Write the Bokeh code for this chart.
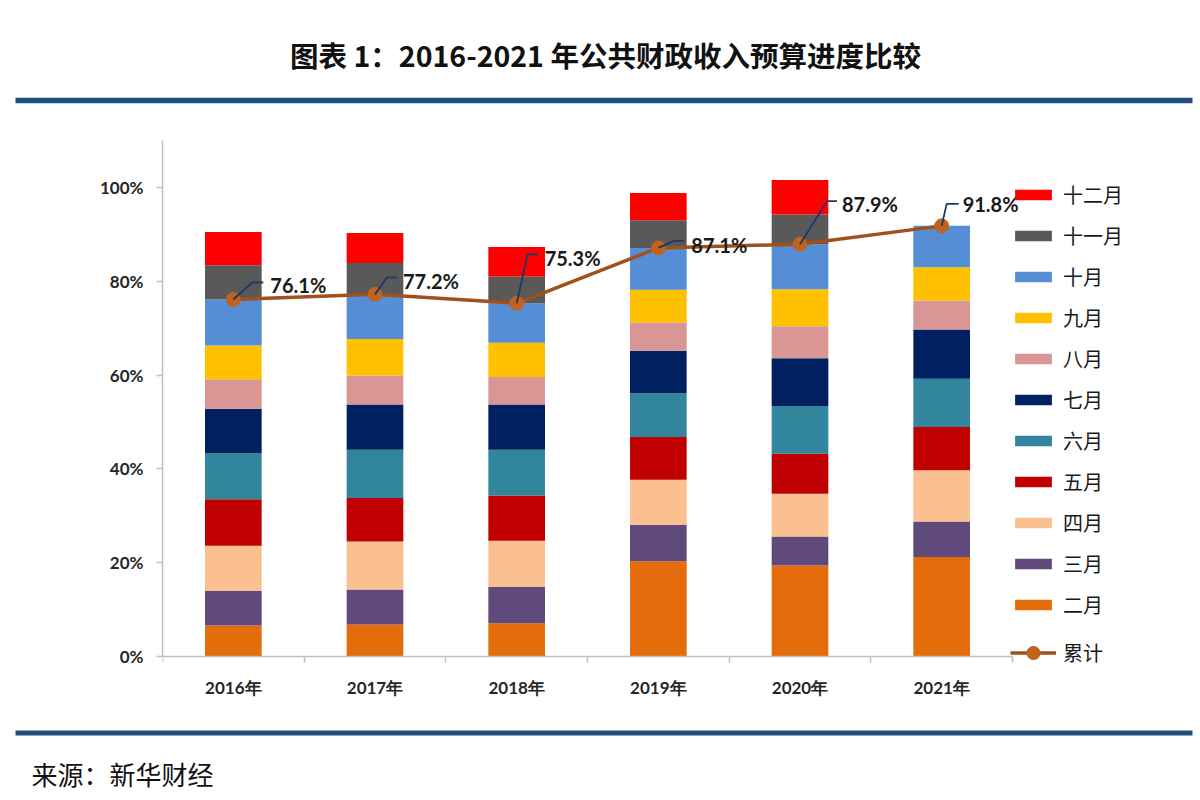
from bokeh.plotting import figure
from bokeh.models import ColumnDataSource, FixedTicker, NumeralTickFormatter, Range1d, Legend, LegendItem
from bokeh.layouts import column
from bokeh.embed import file_html
from bokeh.resources import INLINE
from bokeh.core.properties import value

# ---------------- data ----------------
years = ["2016年", "2017年", "2018年", "2019年", "2020年", "2021年"]
months = ["二月", "三月", "四月", "五月", "六月", "七月", "八月", "九月", "十月", "十一月", "十二月"]
feb = [6.6, 6.8, 7.1, 20.3, 19.4, 21.2]
mar = [7.4, 7.5, 7.7, 7.8, 6.2, 7.6]
apr = [9.6, 10.2, 9.9, 9.6, 9.1, 10.9]
may = [9.9, 9.3, 9.6, 9.1, 8.5, 9.2]
jun = [9.9, 10.3, 9.8, 9.3, 10.2, 10.3]
jul = [9.4, 9.6, 9.6, 9.1, 10.2, 10.5]
aug = [6.3, 6.2, 5.9, 6.0, 6.8, 6.2]
sep = [7.2, 7.8, 7.3, 7.0, 7.9, 7.1]
octo = [9.8, 9.5, 8.4, 8.9, 9.6, 8.8]
nov = [7.3, 6.7, 5.7, 5.9, 6.3, 0.0]
dec = [7.1, 6.4, 6.3, 5.8, 7.4, 0.0]
cumulative = [76.1, 77.2, 75.3, 87.1, 87.9, 91.8]
y_ticks = [0, 0.2, 0.4, 0.6, 0.8, 1.0]
y_max = 1.1

title_text = "图表 1：2016-2021 年公共财政收入预算进度比较"
source_text = "来源：新华财经"

# ---------------- styles ----------------
colors = ["#e46c0a", "#604a7b", "#fac090", "#c00000", "#31859c", "#002060",
          "#d99694", "#ffc000", "#558ed5", "#595959", "#ff0000"]
line_color = "#a0501a"
marker_color = "#c0631f"
leader_color = "#1f3864"
rule_color = "#1f4e79"
axis_color = "#bfbfbf"

W = 1200
LEFT = 162
AXIS_W, AXIS_H = 850, 516           # size of the plotting area proper
EXTRA = 60                          # frame extends below the x axis (labels + legend)
FRAME_W = W - LEFT                  # frame also hosts the legend on the right
FRAME_H = AXIS_H + EXTRA
n_cat = len(years)
px_x = AXIS_W / float(n_cat)
px_y = AXIS_H / y_max

# leader-line / label screen offsets (px) relative to each point
lead_elbow = [(19, 17), (12, 17), (11, 49), (16, 7), (27, 43), (5, 22)]
lead_end = [(30, 17), (22, 17), (21, 49), (26, 7), (37, 43), (17, 22)]
lab_off = [(37, 15), (28, 13), (28, 45), (33, 3), (42, 40), (21, 22)]

series = [feb, mar, apr, may, jun, jul, aug, sep, octo, nov, dec]
keys = ["m%d" % i for i in range(len(months))]
xs = [i + 0.5 for i in range(n_cat)]

data = dict(x=xs)
for k, arr in zip(keys, series):
    data[k] = [v / 100.0 for v in arr]
src = ColumnDataSource(data)

p = figure(frame_width=FRAME_W, frame_height=FRAME_H,
           x_range=Range1d(0, n_cat * FRAME_W / AXIS_W), y_range=Range1d(-EXTRA / px_y, y_max),
           output_backend="svg", toolbar_location=None, frame_align=False,
           min_border_left=LEFT, min_border_right=0, min_border_top=32, min_border_bottom=9)
p.outline_line_color = None
p.xgrid.visible = False
p.ygrid.visible = False

rs = p.vbar_stack(keys, x="x", width=0.4, source=src, fill_color=colors, line_color=None)

cum = [v / 100.0 for v in cumulative]
lr = p.line(xs, cum, line_color=line_color, line_width=3.5)
sr = p.scatter(xs, cum, size=14, fill_color=marker_color, line_color=marker_color)

# leader lines
lx, ly, tx, ty = [], [], [], []
for i, (x0, y0) in enumerate(zip(xs, cum)):
    e, n, l = lead_elbow[i], lead_end[i], lab_off[i]
    lx.append([x0, x0 + e[0] / px_x, x0 + n[0] / px_x])
    ly.append([y0, y0 + e[1] / px_y, y0 + n[1] / px_y])
    tx.append(x0 + l[0] / px_x)
    ty.append(y0 + l[1] / px_y)
p.multi_line(lx, ly, line_color=leader_color, line_width=1.8)
p.text(tx, ty, text=["%.1f%%" % v for v in cumulative], text_align="left", text_baseline="middle",
       text_font=value("Lato"), text_font_style="bold", text_font_size="20px", text_color="#1a1a1a")

# axes
p.xaxis.fixed_location = 0
p.xaxis.bounds = (0, n_cat)
p.xaxis.ticker = FixedTicker(ticks=xs, minor_ticks=list(range(n_cat + 1)))
p.xaxis.major_label_overrides = {x: y for x, y in zip(xs, years)}
p.xaxis.major_tick_line_color = None
p.xaxis.major_tick_out = 0
p.xaxis.major_tick_in = 0
p.xaxis.minor_tick_out = 6
p.xaxis.minor_tick_in = 0
p.xaxis.minor_tick_line_color = axis_color
p.xaxis.minor_tick_line_width = 1.5
p.xaxis.major_label_standoff = 14
p.xaxis.major_label_text_font = "Lato"
p.xaxis.major_label_text_font_style = "bold"
p.xaxis.major_label_text_font_size = "17px"
p.xaxis.major_label_text_color = "#262626"

p.yaxis.bounds = (0, y_max)
p.yaxis.ticker = FixedTicker(ticks=y_ticks)
p.yaxis.formatter = NumeralTickFormatter(format="0%")
p.yaxis.minor_tick_line_color = None
p.yaxis.major_tick_out = 6
p.yaxis.major_tick_in = 0
p.yaxis.major_tick_line_color = axis_color
p.yaxis.major_tick_line_width = 1.5
p.yaxis.major_label_standoff = 13
p.yaxis.major_label_text_font = "Lato"
p.yaxis.major_label_text_font_style = "bold"
p.yaxis.major_label_text_font_size = "17px"
p.yaxis.major_label_text_color = "#262626"
for ax in (p.xaxis, p.yaxis):
    ax.axis_line_color = axis_color
    ax.axis_line_width = 1.5

legend_style = dict(padding=0, margin=0, glyph_width=46, label_standoff=7,
                    label_text_font="Noto Sans CJK SC", label_text_font_size="20px",
                    label_text_color="#1a1a1a", border_line_color=None, background_fill_alpha=0)
items = [LegendItem(label=m, renderers=[r]) for m, r in reversed(list(zip(months, rs)))]
legend = Legend(items=items, location=(848, EXTRA + 37.5), glyph_height=13, spacing=12, **legend_style)
p.add_layout(legend, "center")
legend2 = Legend(items=[LegendItem(label="累计", renderers=[lr, sr])], location=(848, EXTRA - 12.5),
                 glyph_height=33, spacing=12, **legend_style)
p.add_layout(legend2, "center")

# title strip
top = figure(width=W, height=108, x_range=Range1d(0, W), y_range=Range1d(108, 0),
             output_backend="svg", toolbar_location=None, min_border=0, frame_align=False,
             x_axis_location=None, y_axis_location=None)
top.grid.visible = False
top.outline_line_color = None
top.text([605], [54], text=[title_text], text_align="center", text_baseline="middle",
         text_font=value("Noto Sans CJK SC"), text_font_style="bold", text_font_size="28.5px",
         text_color="#111111")
top.quad(left=[15], right=[1192], top=[97.3], bottom=[102.7], fill_color=rule_color, line_color=None)

# source strip
bot = figure(width=W, height=75, x_range=Range1d(0, W), y_range=Range1d(75, 0),
             output_backend="svg", toolbar_location=None, min_border=0, frame_align=False,
             x_axis_location=None, y_axis_location=None)
bot.grid.visible = False
bot.outline_line_color = None
bot.quad(left=[15], right=[1192], top=[5], bottom=[10], fill_color=rule_color, line_color=None)
bot.text([31], [48], text=[source_text], text_align="left", text_baseline="middle",
         text_font=value("Noto Sans CJK SC"), text_font_size="26px", text_color="#111111")

layout = column(top, p, bot, spacing=0)
open("out.html", "w").write(file_html(layout, INLINE))
